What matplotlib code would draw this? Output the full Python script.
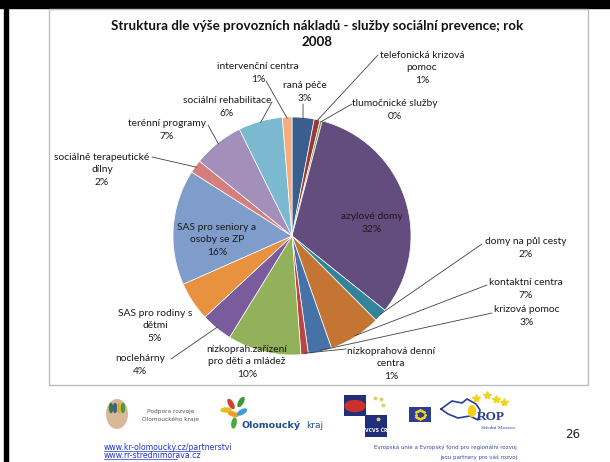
import matplotlib
matplotlib.use("Agg")
import matplotlib.pyplot as plt
from matplotlib.patches import Rectangle, Ellipse
import numpy as np

plt.rcParams['font.family'] = ['Lato', 'DejaVu Sans']

# ---------------- data ----------------
title = "Struktura dle výše provozních nákladů - služby sociální prevence; rok\n2008"
categories = [
    "raná péče", "telefonická krizová\npomoc", "tlumočnické služby", "azylové domy",
    "domy na půl cesty", "kontaktní centra", "krizová pomoc", "nízkoprahová denní\ncentra",
    "nízkoprah.zařízení\npro děti a mládež", "noclehárny", "SAS pro rodiny s\ndětmi",
    "SAS pro seniory a\nosoby se ZP", "sociálně terapeutické\ndílny", "terénní programy",
    "sociální rehabilitace", "intervenční centra",
]
values = [3.0, 0.8, 0.3, 31.7, 1.8, 7.1, 3.2, 1.0, 10.0, 4.3, 5.3, 15.7, 1.8, 6.9, 6.0, 1.3]
colors = ["#3A5F8F", "#9A3A37", "#7E9A48", "#634C7E", "#31849B", "#C47534", "#4572A7",
          "#B94644", "#92B15A", "#7A5C9C", "#E8913E", "#7F9CCB", "#D47F7D", "#A28FBA",
          "#7AB9CF", "#F6AC7B"]

# label centres (pixel coords of the 610x462 slide)
label_pos = [
    (305, 92), (422, 68), (395, 110), (372, 223),
    (526, 248), (526, 289), (527, 316), (391, 364),
    (247, 362), (140, 365), (155, 326),
    (217, 240), (102, 170), (167, 130),
    (227, 107), (258, 73),
]
# leader start points (pixel), None = no leader line
leader_start = [
    (303, 104), (378, 55), (352, 104), None,
    (482, 244), (487, 285), (492, 313), (346, 349),
    None, (171, 359), None,
    None, (152, 157), (208, 125),
    (272, 102), (266, 81),
]

W, H = 610, 462
fig = plt.figure(figsize=(W / 100, H / 100), dpi=100)
fig.patch.set_facecolor("white")

# background axes (slide frame, chart area)
bg = fig.add_axes([0, 0, 1, 1])
bg.set_xlim(0, W)
bg.set_ylim(H, 0)
bg.axis("off")
bg.add_patch(Rectangle((0, 0), 610, 8, color="black"))
bg.add_patch(Rectangle((4, 0), 4, 462, color="black"))
bg.add_patch(Rectangle((49, 9), 539, 376, facecolor="white", edgecolor="#BDBDBD", lw=1.0))

# pie
cx, cy, r = 292, 236, 119
pax = fig.add_axes([(cx - r) / W, 1 - (cy + r) / H, 2 * r / W, 2 * r / H])
wedges, _ = pax.pie(values, colors=colors, startangle=90, counterclock=False,
                    wedgeprops=dict(edgecolor="white", linewidth=0.5))
pax.set_xlim(-1, 1)
pax.set_ylim(-1, 1)
pax.set_aspect("equal")
pax.axis("off")

# front axes (texts)
ov = fig.add_axes([0, 0, 1, 1])
ov.set_xlim(0, W)
ov.set_ylim(H, 0)
ov.axis("off")

ov.text(317, 34, title, ha="center", va="center", fontsize=9.6, fontweight="bold",
        linespacing=1.35, color="#111111")

total = sum(values)
for i, (w, cat) in enumerate(zip(wedges, categories)):
    pct = f"{round(values[i] / total * 100)}%"
    lx, ly = label_pos[i]
    ov.text(lx, ly, cat + "\n" + pct, ha="center", va="center", fontsize=7.4,
            linespacing=1.5, color="#1A1A1A", zorder=6)
    if leader_start[i] is not None:
        ang = np.deg2rad((w.theta1 + w.theta2) / 2)
        ex, ey = np.cos(ang) * 0.99, np.sin(ang) * 0.99
        pax.annotate("", xy=(ex, ey), xytext=leader_start[i], textcoords=ov.transData,
                     arrowprops=dict(arrowstyle="-", lw=0.6, color="#404040",
                                     shrinkA=0, shrinkB=0), annotation_clip=False)

# ---------------- footer ----------------
# logo 1
ov.add_patch(Rectangle((102, 395), 97, 38, facecolor="white", edgecolor="none", zorder=2))
ov.add_patch(Ellipse((117, 414), 22, 30, facecolor="#D9B89A", edgecolor="none", zorder=3))
for dx, c in zip([-6, -2, 2, 6], ["#3A7A3A", "#3B5BA5", "#E0B020", "#4A9A4A"]):
    ov.add_patch(Ellipse((117 + dx, 408), 3, 9, color=c, zorder=4))
ov.text(171, 415.5, "Podpora rozvoje\nOlomouckého kraje", ha="center", va="center",
        fontsize=4.2, color="#555555", linespacing=1.6, family="DejaVu Sans", zorder=4)
# logo 2
ov.add_patch(Rectangle((213, 395), 116, 42, facecolor="white", edgecolor="none", zorder=2))
for (px, py, ang, c) in [(231, 404, 60, "#D63A2A"), (241, 402, 120, "#3A9A3A"),
                         (233, 414, 20, "#F0A020"), (242, 412, 150, "#3AA0D8"),
                         (226, 410, 0, "#E0C020"), (234, 423, 100, "#4AAA3A")]:
    ov.add_patch(Ellipse((px, py), 10, 4, angle=ang, color=c, zorder=3))
ov.text(242, 425, "Olomoucký", ha="left", va="center", fontsize=6.8, fontweight="bold",
        color="#1E4E8C", family="DejaVu Sans", zorder=4)
ov.text(306, 425, "kraj", ha="left", va="center", fontsize=6.5, color="#1E4E8C",
        family="DejaVu Sans", zorder=4)
# VCVS
ov.add_patch(Rectangle((344, 395), 43, 42, facecolor="white", edgecolor="none", zorder=3))
ov.add_patch(Rectangle((344, 395), 22, 21, facecolor="#1F2F7A", edgecolor="none", zorder=3))
ov.add_patch(Rectangle((365, 415), 22, 22, facecolor="#1F2F7A", edgecolor="none", zorder=3))
ov.add_patch(Ellipse((355, 406), 20, 11, color="#C8312E", zorder=4))
ov.plot([375, 381, 383, 378], [398, 399, 405, 419], ls="none", marker="*", ms=2.5,
        color="#D8D06A", zorder=4)
ov.text(376, 431, "VCVS ČR", ha="center", va="center", fontsize=3.3, color="white",
        fontweight="bold", family="DejaVu Sans", zorder=5)
# EU flag + ROP
ov.add_patch(Rectangle((407, 391), 121, 42, facecolor="white", edgecolor="none", zorder=2))
ov.add_patch(Rectangle((409, 407), 22, 15, facecolor="#2B3F94", edgecolor="none", zorder=3))
t = np.linspace(0, 2 * np.pi, 12, endpoint=False)
ov.plot(420 + 4.5 * np.cos(t), 414.5 + 4.5 * np.sin(t),
        ls="none", marker="*", ms=1.5, color="#F2D21B", zorder=4)
ov.plot([441, 452, 462, 467, 476, 480, 478, 470, 458, 448, 441],
        [409, 401, 403, 399, 404, 410, 420, 416, 418, 414, 409], color="#2B3F94", lw=1.2, zorder=3)
ov.add_patch(Ellipse((472, 411), 7, 11, color="#F2D21B", zorder=3))
ov.plot([476, 487, 496, 504], [398, 395, 399, 402], ls="none", marker="*",
        color="#F2D21B", ms=6, zorder=4)
ov.text(477, 417, "ROP", ha="left", va="center", fontsize=9.5, fontweight="bold",
        color="#2B3F94", family="Liberation Serif", zorder=4)
ov.text(481, 428, "Střední Morava", ha="left", va="center", fontsize=3.9,
        color="#2B3F94", family="Liberation Serif", zorder=4)
ov.text(573, 434, "26", ha="center", va="center", fontsize=8.5, color="#222222",
        family="DejaVu Sans", zorder=4)
ov.text(104, 447, "www.kr-olomoucky.cz/partnerstvi", ha="left", va="center", fontsize=5.6,
        color="#1F35D0", family="DejaVu Sans", zorder=4)
ov.text(104, 455, "www.rr-strednimorava.cz", ha="left", va="center", fontsize=5.6,
        color="#1F35D0", family="DejaVu Sans", zorder=4)
ov.plot([104, 200], [450.5, 450.5], color="#1F35D0", lw=0.5, zorder=4)
ov.plot([104, 177], [458.5, 458.5], color="#1F35D0", lw=0.5, zorder=4)
ov.text(517, 447, "Evropská unie a Evropský fond pro regionální rozvoj", ha="right",
        va="center", fontsize=4.0, color="#3A46A0", family="DejaVu Sans", zorder=4)
ov.text(517, 457.5, "jsou partnery pro váš rozvoj", ha="right",
        va="center", fontsize=4.0, color="#3A46A0", family="DejaVu Sans", zorder=4)

fig.savefig("out.png", dpi=100)
